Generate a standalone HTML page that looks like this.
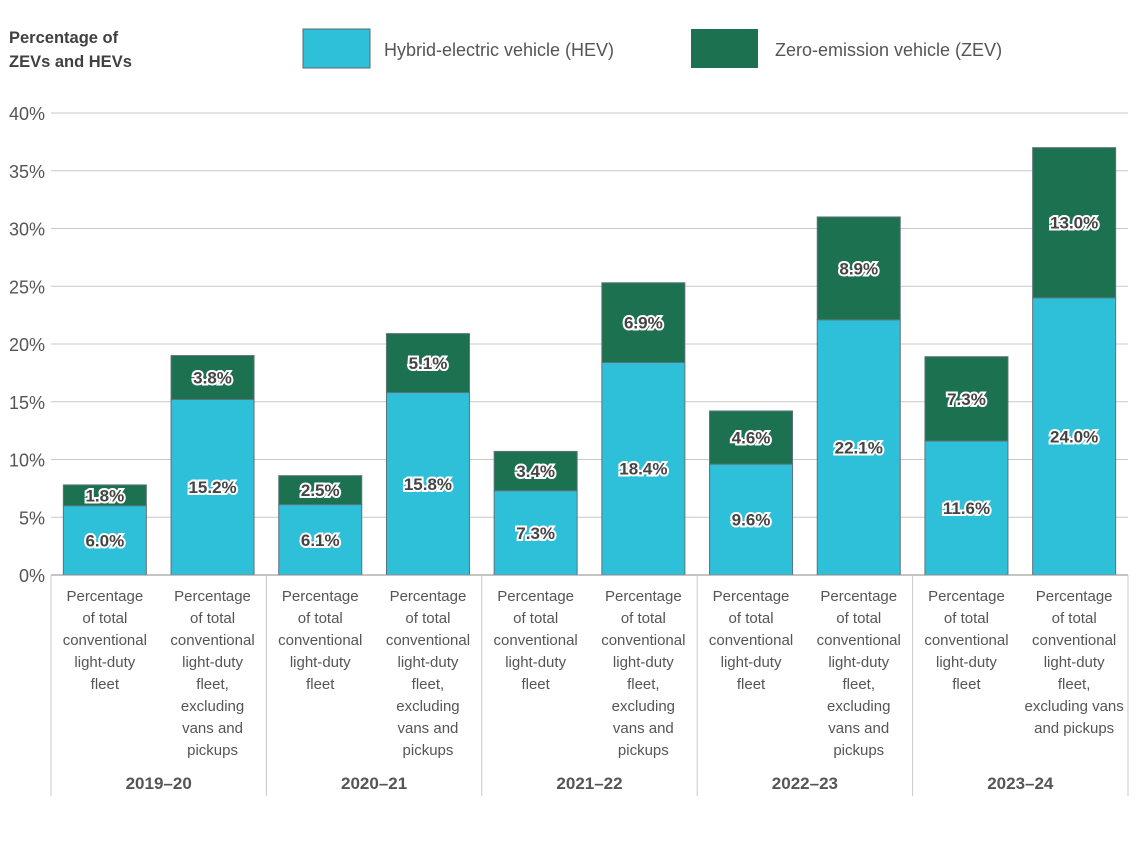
<!DOCTYPE html>
<html><head><meta charset="utf-8"><style>
body{margin:0;background:#fff;font-family:"Liberation Sans",sans-serif}
svg text{font-family:"Liberation Sans",sans-serif}
.lbl{font-weight:bold;font-size:17px;fill:#444;stroke:#fff;stroke-width:4px;paint-order:stroke;text-anchor:middle}
</style></head><body>
<svg id="c" width="1141" height="841">
<text x="9" y="43" font-size="16.5" font-weight="bold" fill="#404040">Percentage of</text>
<text x="9" y="67" font-size="16.5" font-weight="bold" fill="#404040">ZEVs and HEVs</text>
<g><rect x="303" y="29" width="67" height="39" fill="#2ebfd9" stroke="#5a6a70"/><text x="384" y="56" font-size="18" fill="#555">Hybrid-electric vehicle (HEV)</text></g>
<g><rect x="691" y="29" width="67" height="39" fill="#1b7150"/><text x="775" y="56" font-size="18" fill="#555">Zero-emission vehicle (ZEV)</text></g>
<g id="grid"></g><g id="bars"></g><g id="xa"></g>
</svg>
<script>
const groups=["2019–20","2020–21","2021–22","2022–23","2023–24"];
const hev=[6.0,15.2,6.1,15.8,7.3,18.4,9.6,22.1,11.6,24.0];
const zev=[1.8,3.8,2.5,5.1,3.4,6.9,4.6,8.9,7.3,13.0];
const yTicks=[0,5,10,15,20,25,30,35,40];
const catA=["Percentage","of total","conventional","light-duty","fleet"];
const catB=["Percentage","of total","conventional","light-duty","fleet,","excluding","vans and","pickups"];
const catBLast=["Percentage","of total","conventional","light-duty","fleet,","excluding vans","and pickups"];
const NS="http://www.w3.org/2000/svg";
const x0=51,x1=1128,yB=575,yT=113;
const y=v=>yB-(v/40)*(yB-yT);
const cw=(x1-x0)/hev.length;
const xc=i=>x0+cw*(i+0.5);
function mk(p,t,a,txt){const e=document.createElementNS(NS,t);for(const k in a)e.setAttribute(k,a[k]);if(txt!=null)e.textContent=txt;p.appendChild(e);return e;}
const G=document.getElementById('grid'),B=document.getElementById('bars'),X=document.getElementById('xa');
yTicks.forEach(t=>{
 const l=mk(G,'line',{x1:x0,x2:x1,y1:y(t),y2:y(t),stroke:'#c8c8c8','stroke-width':1});
 
 
 const tx=mk(G,'text',{x:45,y:y(t)+7,'font-size':18,fill:'#555','text-anchor':'end'},t+'%');
 
 
});
hev.forEach((h,i)=>{
 const bw=83,bx=xc(i)-bw/2;
 const r1=mk(B,'rect',{x:bx,y:y(h),width:bw,height:yB-y(h),fill:'#2ebfd9',stroke:'#5f7278','stroke-width':1});
 
 
 const r2=mk(B,'rect',{x:bx,y:y(h+zev[i]),width:bw,height:y(h)-y(h+zev[i]),fill:'#1b7150',stroke:'#5f7278','stroke-width':1});
 
 
 const t1=mk(B,'text',{x:xc(i),y:(y(h)+yB)/2+6,class:'lbl'},h.toFixed(1)+'%');
 
 
 const t2=mk(B,'text',{x:xc(i),y:(y(h)+y(h+zev[i]))/2+6,class:'lbl'},zev[i].toFixed(1)+'%');
 
 
 const lines=i%2==0?catA:(i==hev.length-1?catBLast:catB);
 lines.forEach((s,k)=>{
  const c=mk(X,'text',{x:xc(i),y:601+k*22,'font-size':15,fill:'#555','text-anchor':'middle'},s);
  
  
 });
});
mk(X,'line',{x1:x0,x2:x1,y1:yB,y2:yB,stroke:'#888'});
for(let g=0;g<=groups.length;g++){
 const gx=x0+cw*2*g;
 const l=mk(X,'line',{x1:gx,x2:gx,y1:yB,y2:796,stroke:'#c8c8c8'});
 
 
 if(g<groups.length){
  const t=mk(X,'text',{x:gx+cw,y:789,'font-size':17,'font-weight':'bold',fill:'#555','text-anchor':'middle'},groups[g]);
  
  
 }
}
</script>
</body></html>
